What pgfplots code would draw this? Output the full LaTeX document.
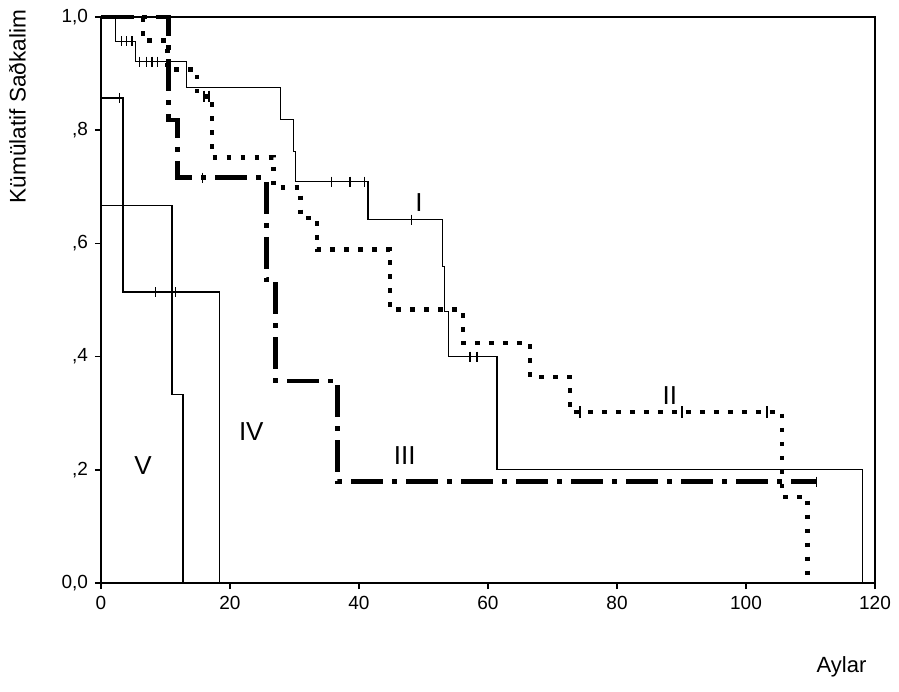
\documentclass[border=0pt]{standalone}
\usepackage{fontspec}
\setmainfont{Liberation Sans}
\usepackage{pgfplots}
\pgfplotsset{compat=1.18}
\begin{document}
\begin{tikzpicture}
\path[use as bounding box] (-50.5pt,-54pt) rectangle (399pt,291.5pt);
\begin{axis}[
  at={(0,0)}, anchor=south west,
  scale only axis, width=387pt, height=283pt,
  xmin=0, xmax=120, ymin=0, ymax=1,
  clip=false,
  axis line style={line width=1pt},
  xtick={0,20,40,60,80,100,120},
  xticklabels={0,20,40,60,80,100,120},
  ytick={0,0.2,0.4,0.6,0.8,1},
  yticklabels={{0,0},{,2},{,4},{,6},{,8},{1,0}},
  xtick pos=bottom, ytick pos=left,
  tick align=outside, major tick length=3pt,
  tick style={line width=0.8pt, black},
  tick label style={font=\fontsize{9.5}{11}\selectfont},
  xlabel={Aylar},
  xlabel style={font=\fontsize{11}{13}\selectfont, at={(axis description cs:0.998,-0.148)}, anchor=east},
  ylabel={Kümülatif Saðkalim},
  ylabel style={font=\fontsize{11.3}{13}\selectfont, at={(axis description cs:-0.108,0.842)}, anchor=center},
]
% Curve II (dotted)
\addplot[const plot, black, line width=2.3pt, dash pattern=on 2.3pt off 4.7pt] coordinates {
(0,1) (6.5,0.958) (10.3,0.907) (14.9,0.86) (17.2,0.752) (26.7,0.699) (30.9,0.645) (33.5,0.589) (44.8,0.483) (56.1,0.424) (66.5,0.364) (72.7,0.302) (105.6,0.152) (109.5,0)
};
% Curve III (dash-dot)
\addplot[const plot, black, line width=2.4pt, dash pattern=on 16pt off 4.5pt on 2.5pt off 4.5pt] coordinates {
(0,1) (10.5,0.818) (11.8,0.716) (25.6,0.536) (27.1,0.357) (36.7,0.179) (111,0.179)
};
% Curve I (thin solid)
\addplot[const plot, black, line width=0.6pt] coordinates {
(0,1) (2.2,0.957) (5.3,0.921) (13.3,0.875) (27.8,0.819) (29.8,0.762) (30.2,0.709) (41.4,0.642) (52.9,0.559) (53.2,0.480) (53.9,0.400) (61.4,0.200) (118.1,0.200) (118.1,0)
};
% Curve IV
\addplot[const plot, black, line width=0.6pt] coordinates {
(0,1) (0,0.857) (3.4,0.514) (18.4,0)
};
% Curve V
\addplot[const plot, black, line width=0.6pt] coordinates {
(0,1) (0,0.667) (11.0,0.333) (12.7,0)
};
% censored marks
\addplot[only marks, mark=|, mark size=2.5pt, mark options={line width=0.6pt}, black] coordinates {
(3.2,0.957) (4.0,0.957) (4.8,0.957)
(6.0,0.921) (7.1,0.921) (7.9,0.921) (8.7,0.921)
(35.7,0.709) (38.6,0.709) (40.8,0.709)
(48.1,0.642)
(57.2,0.400) (58.3,0.400)
};
\addplot[only marks, mark=|, mark size=2.8pt, mark options={line width=1pt}, black] coordinates {
(16.0,0.86) (16.8,0.86)
(74.2,0.302) (90.1,0.302) (103.3,0.302)
};
\addplot[only marks, mark=|, mark size=2.5pt, mark options={line width=0.5pt}, black] coordinates {
(15.8,0.716) (111,0.179)
};
\addplot[only marks, mark=|, mark size=2.5pt, mark options={line width=0.5pt}, black] coordinates {
(2.9,0.857) (8.4,0.514) (11.5,0.514)
};
\node[font=\fontsize{13}{15}\selectfont] at (axis cs:49.3,0.672) {I};
\node[font=\fontsize{13}{15}\selectfont] at (axis cs:88.2,0.332) {II};
\node[font=\fontsize{13}{15}\selectfont] at (axis cs:47.1,0.225) {III};
\node[font=\fontsize{13}{15}\selectfont] at (axis cs:23.3,0.267) {IV};
\node[font=\fontsize{13}{15}\selectfont] at (axis cs:6.5,0.207) {V};
\end{axis}
\end{tikzpicture}
\end{document}
